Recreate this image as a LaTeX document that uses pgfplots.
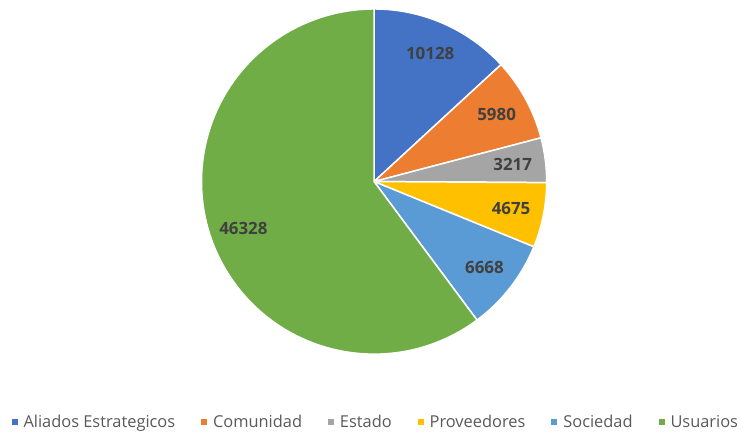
\documentclass[border=0pt]{standalone}
\usepackage{pgfplots}
\usepackage{pgfplotstable}
\usepackage{fontspec}
\setmainfont{Open Sans}
\pgfplotsset{compat=1.18}

\definecolor{cA}{HTML}{4472C4}
\definecolor{cB}{HTML}{ED7D31}
\definecolor{cC}{HTML}{A5A5A5}
\definecolor{cD}{HTML}{FFC000}
\definecolor{cE}{HTML}{5B9BD5}
\definecolor{cF}{HTML}{70AD47}
\definecolor{lbl}{HTML}{404040}
\definecolor{legtext}{HTML}{595959}

\tikzset{slicelabel/.style={font=\fontsize{17}{20}\selectfont\bfseries, text=lbl}}

\pgfplotstableread[col sep=comma]{
name,value,clr
Aliados Estrategicos,10128,cA
Comunidad,5980,cB
Estado,3217,cC
Proveedores,4675,cD
Sociedad,6668,cE
Usuarios,46328,cF
}\piedata

\begin{document}
\begin{tikzpicture}
\begin{axis}[
  width=743bp, height=433bp, scale only axis,
  xmin=0, xmax=743, ymin=0, ymax=433,
  hide axis, clip=false,
  legend columns=6,
  legend image code/.code={\fill[#1, draw=none] (0bp,-3bp) rectangle (6bp,3bp);
    \path[draw=none, fill=none] (0bp,0bp) -- (10bp,0bp);},
  legend style={draw=none, fill=none, at={(0.507,0.023)}, anchor=center,
    font=\fontsize{16.5}{19}\selectfont, text=legtext,
    /tikz/every even column/.append style={column sep=24bp}},
  legend cell align=left,
]
\path (axis cs:0,0) rectangle (axis cs:743,433);
% total of all slices (l3fp, the sum is beyond pgfmath's range)
\def\total{0}
\pgfplotsforeachungrouped \i in {0,...,5}{%
  \pgfplotstablegetelem{\i}{value}\of\piedata
  \edef\total{\fpeval{\total+\pgfplotsretval}}%
}
\def\cum{0}
\pgfplotsforeachungrouped \i in {0,...,5}{%
  \pgfplotstablegetelem{\i}{value}\of\piedata \let\sv\pgfplotsretval
  \pgfplotstablegetelem{\i}{clr}\of\piedata \let\sc\pgfplotsretval
  \pgfplotstablegetelem{\i}{name}\of\piedata \let\sn\pgfplotsretval
  \edef\aA{\fpeval{round(90-\cum/\total*360,3)}}%
  \edef\cum{\fpeval{\cum+\sv}}%
  \edef\aB{\fpeval{round(90-\cum/\total*360,3)}}%
  \edef\aM{\fpeval{round((\aA+\aB)/2,3)}}%
  \edef\tmp{\noexpand\fill[\sc, draw=white, line width=1.5bp]
    (axis cs:375,251) -- (axis cs:{375+173*cos(\aA)},{251+173*sin(\aA)})
    arc[start angle=\aA, end angle=\aB, radius=173bp] -- cycle;
    \noexpand\addlegendimage{fill=\sc}\noexpand\addlegendentry{\sn}}\tmp
  \ifnum\i=5
    \edef\tmp{\noexpand\node[slicelabel] at (axis cs:244,204) {\sv};}\tmp
  \else
    \edef\tmp{\noexpand\node[slicelabel] at (axis cs:{375+140*cos(\aM)},{251+140*sin(\aM)}) {\sv};}\tmp
  \fi
}
\end{axis}
\end{tikzpicture}
\end{document}
